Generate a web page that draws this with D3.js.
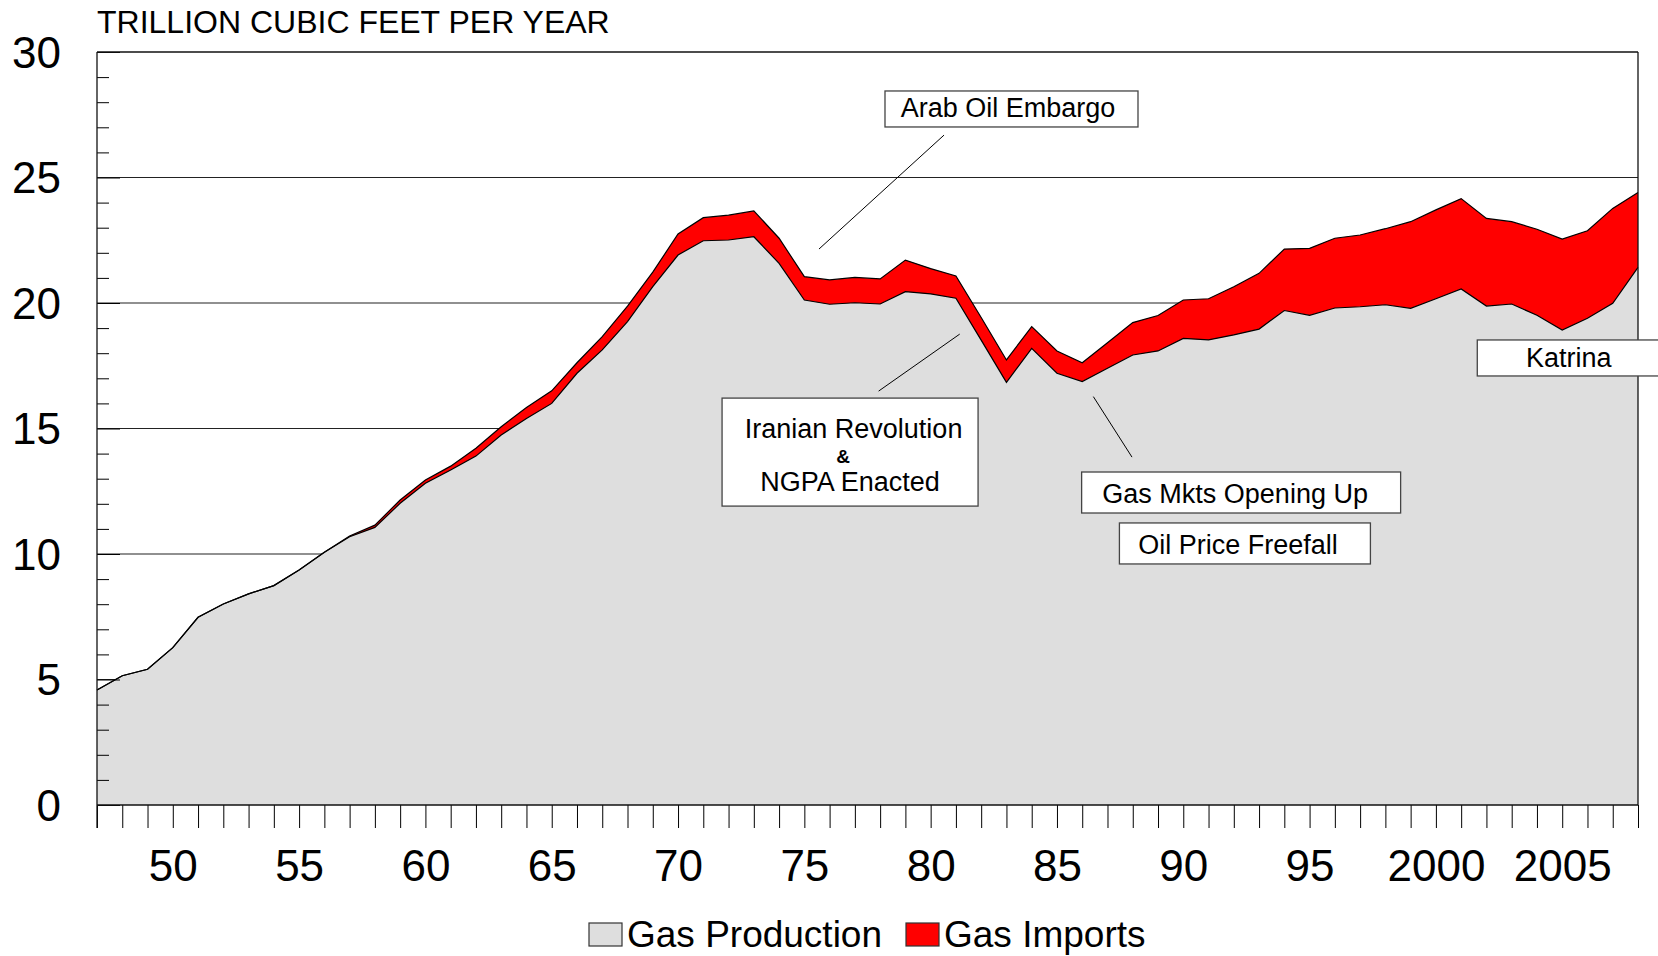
<!DOCTYPE html>
<html>
<head>
<meta charset="utf-8">
<script src="https://cdn.jsdelivr.net/npm/d3@7"></script>
<style>
  body { margin: 0; background: #fff; }
  svg { display: block; font-family: "Liberation Sans", Arial, sans-serif; }
</style>
</head>
<body>
<div id="chart"></div>
<script>
// data (trillion cubic feet per year)
const years = [1947, 1948, 1949, 1950, 1951, 1952, 1953, 1954, 1955, 1956,
  1957, 1958, 1959, 1960, 1961, 1962, 1963, 1964, 1965, 1966,
  1967, 1968, 1969, 1970, 1971, 1972, 1973, 1974, 1975, 1976,
  1977, 1978, 1979, 1980, 1981, 1982, 1983, 1984, 1985, 1986,
  1987, 1988, 1989, 1990, 1991, 1992, 1993, 1994, 1995, 1996,
  1997, 1998, 1999, 2000, 2001, 2002, 2003, 2004, 2005, 2006,
  2007, 2008]

const production = [4.58, 5.15, 5.41, 6.27, 7.48, 8.01, 8.41, 8.74, 9.36, 10.07,
  10.69, 11.06, 12.02, 12.82, 13.35, 13.90, 14.74, 15.40, 16.00, 17.20,
  18.13, 19.26, 20.65, 21.91, 22.48, 22.51, 22.64, 21.58, 20.12, 19.95,
  20.01, 19.96, 20.45, 20.36, 20.19, 18.52, 16.84, 18.19, 17.20, 16.87,
  17.40, 17.93, 18.09, 18.59, 18.53, 18.73, 18.96, 19.70, 19.51, 19.80,
  19.85, 19.93, 19.79, 20.17, 20.56, 19.88, 19.96, 19.51, 18.92, 19.39,
  19.99, 21.42]

const imports = [0, 0, 0, 0, 0, 0, 0, 0, 0, 0,
  0.03, 0.09, 0.13, 0.13, 0.15, 0.31, 0.33, 0.44, 0.50, 0.42,
  0.53, 0.62, 0.58, 0.84, 0.92, 0.99, 1.03, 1.00, 0.93, 0.97,
  1.01, 1.00, 1.26, 1.01, 0.89, 0.90, 0.89, 0.87, 0.89, 0.75,
  1.02, 1.29, 1.41, 1.53, 1.64, 1.92, 2.22, 2.45, 2.67, 2.78,
  2.86, 3.03, 3.45, 3.54, 3.60, 3.49, 3.28, 3.43, 3.63, 3.49,
  3.78, 2.98]

const xLabelYears = [1950, 1955, 1960, 1965, 1970, 1975, 1980, 1985, 1990, 1995, 2000, 2005]
const xLabels = ['50', '55', '60', '65', '70', '75', '80', '85', '90', '95', '2000', '2005']
const yLabelValues = [0, 5, 10, 15, 20, 25, 30]

const seriesNames = ['Gas Production', 'Gas Imports']
const seriesColors = ['#dedede', '#ff0000']

// annotation boxes, centred on (year, value)
const notes = [
  { year: 1983.2, value: 27.73, w: 253, h: 36, lines: [{ t: 'Arab Oil Embargo', dx: -3.5, dy: 8.5 }] },
  { year: 1976.81, value: 14.06, w: 256, h: 108, lines: [
      { t: 'Iranian Revolution', dx: 3.5, dy: -14 },
      { t: '&', dx: -7, dy: 11, small: true },
      { t: 'NGPA Enacted', dx: 0, dy: 38.7 }] },
  { year: 1992.29, value: 12.45, w: 319, h: 41, lines: [{ t: 'Gas Mkts Opening Up', dx: -6, dy: 10.5 }] },
  { year: 1992.44, value: 10.42, w: 251, h: 41, lines: [{ t: 'Oil Price Freefall', dx: -7, dy: 10.5 }] },
  { year: 2005.26, value: 17.81, w: 183, h: 36, lines: [{ t: 'Katrina', dx: 0, dy: 9 }] }
]
// leader lines: [year1, value1, year2, value2]
const leaders = [
  [1980.53, 26.69, 1975.58, 22.15],
  [1977.94, 16.49, 1981.15, 18.76],
  [1986.44, 16.27, 1987.97, 13.86]
]

const svgWidth = 1658
const svgHeight = 956

const data = years.map((yr, i) => ({ year: yr, prod: production[i], imp: imports[i] }))

const x = d3.scaleLinear().domain([1947, 2008]).range([97, 1638])
const y = d3.scaleLinear().domain([0, 30]).range([805, 52])

const svg = d3.select('#chart').append('svg')
  .attr('width', svgWidth)
  .attr('height', svgHeight)

svg.append('rect').attr('width', svgWidth).attr('height', svgHeight).attr('fill', '#fff')

// title
svg.append('text')
  .attr('x', 97)
  .attr('y', 33)
  .attr('font-size', 32)
  .text('TRILLION CUBIC FEET PER YEAR')

// gridlines
svg.append('g').selectAll('line')
  .data([5, 10, 15, 20, 25])
  .enter().append('line')
  .attr('x1', x(1947)).attr('x2', x(2008))
  .attr('y1', d => y(d)).attr('y2', d => y(d))
  .attr('stroke', '#222')
  .attr('stroke-width', 1.2)

// areas
const prodArea = d3.area()
  .x(d => x(d.year))
  .y0(y(0))
  .y1(d => y(d.prod))

const impArea = d3.area()
  .x(d => x(d.year))
  .y0(d => y(d.prod))
  .y1(d => y(d.prod + d.imp))

svg.append('path').datum(data).attr('d', prodArea).attr('fill', seriesColors[0])
svg.append('path').datum(data).attr('d', impArea).attr('fill', seriesColors[1])

const prodLine = d3.line().x(d => x(d.year)).y(d => y(d.prod))
const totalLine = d3.line().x(d => x(d.year)).y(d => y(d.prod + d.imp))

svg.append('path').datum(data).attr('d', totalLine)
  .attr('fill', 'none').attr('stroke', '#000').attr('stroke-width', 1.2)
svg.append('path').datum(data).attr('d', prodLine)
  .attr('fill', 'none').attr('stroke', '#000').attr('stroke-width', 1.2)

// x axis
const xAxis = d3.axisBottom(x)
  .tickValues(years)
  .tickSize(23)
  .tickFormat(d => {
    const i = xLabelYears.indexOf(d)
    return i >= 0 ? xLabels[i] : ''
  })

const xAxisGroup = svg.append('g')
  .attr('transform', `translate(0, ${y(0)})`)
  .call(xAxis)
xAxisGroup.select('.domain').remove()
xAxisGroup.selectAll('line').attr('stroke', '#000')
xAxisGroup.selectAll('text')
  .attr('y', 76)
  .attr('dy', 0)
  .attr('fill', '#000')
  .attr('font-size', 44)
  .attr('font-family', '"Liberation Sans", Arial, sans-serif')

// y axis, ticks pointing into the plot
const yAxis = d3.axisLeft(y)
  .tickValues(d3.range(0, 31))
  .tickSizeInner(-12)
  .tickSizeOuter(0)
  .tickPadding(36)
  .tickFormat(d => yLabelValues.includes(d) ? d : '')

const yAxisGroup = svg.append('g')
  .attr('transform', `translate(${x(1947)}, 0)`)
  .call(yAxis)
yAxisGroup.select('.domain').remove()
yAxisGroup.selectAll('line')
  .attr('stroke', '#000')
  .attr('x2', d => d % 5 === 0 ? 23 : 12)
yAxisGroup.selectAll('text')
  .attr('dy', '0.35em')
  .attr('fill', '#000')
  .attr('font-size', 44)
  .attr('font-family', '"Liberation Sans", Arial, sans-serif')

// frame
const frame = svg.append('g').attr('stroke', '#111').attr('stroke-width', 1.3)
frame.append('line').attr('x1', x(1947)).attr('x2', x(1947)).attr('y1', y(30)).attr('y2', y(0) + 23)
frame.append('line').attr('x1', x(1947)).attr('x2', x(2008)).attr('y1', y(30)).attr('y2', y(30))
frame.append('line').attr('x1', x(2008)).attr('x2', x(2008)).attr('y1', y(30)).attr('y2', y(0))
frame.append('line').attr('x1', x(1947)).attr('x2', x(2008)).attr('y1', y(0)).attr('y2', y(0))

// leader lines
svg.append('g').selectAll('line')
  .data(leaders)
  .enter().append('line')
  .attr('x1', d => x(d[0])).attr('y1', d => y(d[1]))
  .attr('x2', d => x(d[2])).attr('y2', d => y(d[3]))
  .attr('stroke', '#000')
  .attr('stroke-width', 1)

// annotation boxes
const noteGroups = svg.append('g').selectAll('g')
  .data(notes)
  .enter().append('g')
  .attr('transform', d => `translate(${x(d.year)}, ${y(d.value)})`)

noteGroups.append('rect')
  .attr('x', d => -d.w / 2)
  .attr('y', d => -d.h / 2)
  .attr('width', d => d.w)
  .attr('height', d => d.h)
  .attr('fill', '#fff')
  .attr('stroke', '#444')
  .attr('stroke-width', 1.3)

noteGroups.selectAll('text')
  .data(d => d.lines)
  .enter().append('text')
  .attr('x', d => d.dx)
  .attr('y', d => d.dy)
  .attr('text-anchor', 'middle')
  .attr('font-size', d => d.small ? 19 : 27)
  .attr('font-weight', d => d.small ? 'bold' : 'normal')
  .text(d => d.t)

// legend
const legend = svg.append('g').attr('transform', 'translate(589, 923)')
const legendX = [0, 317]
seriesNames.forEach((name, i) => {
  legend.append('rect')
    .attr('x', legendX[i])
    .attr('y', 0)
    .attr('width', 33)
    .attr('height', 23)
    .attr('fill', seriesColors[i])
    .attr('stroke', '#333')
    .attr('stroke-width', 1.2)
  legend.append('text')
    .attr('x', legendX[i] + 38)
    .attr('y', 24)
    .attr('font-size', 37)
    .text(name)
})
</script>
</body>
</html>
